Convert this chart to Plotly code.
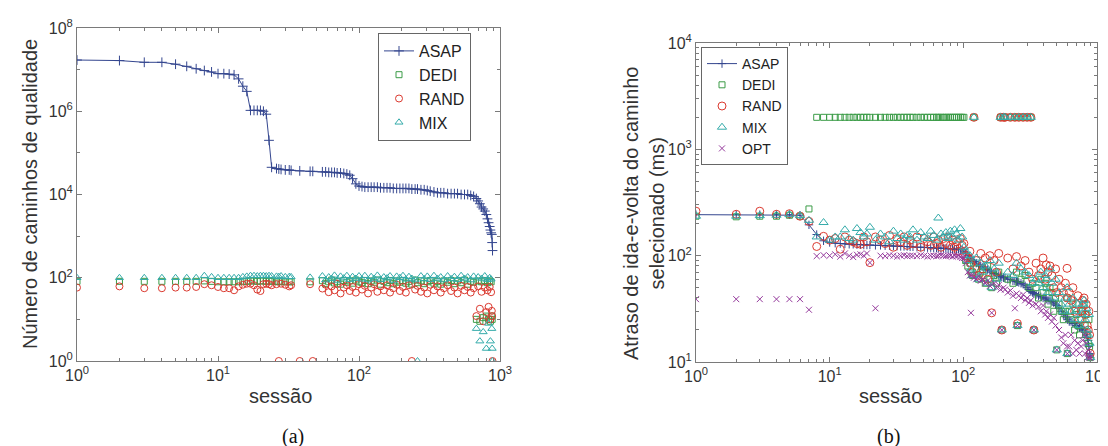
import plotly.graph_objects as go

# ---------------- data: panel (a) ----------------
sess_a = [1,2,3,4,5,6,7,8,9,10,11,12,13,14,15,16,17,18,19,20,21,22,23,24,
          26,27,28,30,32,33,38,45,47,
          55,58,61,64,67,70,74,78,82,86,90,95,100,
          105,110,116,122,128,135,142,150,158,166,175,185,195,
          205,215,226,237,250,260,275,290,305,320,340,360,380,400,
          425,450,475,500,530,560,590,
          620,650,680,700,720,740,760,780,800,815,830,845,855,865,875,880,885]

asap_a = [1.7e7,1.65e7,1.5e7,1.5e7,1.35e7,1.2e7,1.05e7,9.5e6,8.8e6,8e6,8e6,7.8e6,7.5e6,6e6,4e6,3e6,
          1.05e6,1.05e6,1.05e6,1.05e6,1e6,8.5e5,2e5,4.5e4,
          4.2e4,4.1e4,4e4,3.9e4,3.9e4,3.8e4,3.7e4,3.6e4,3.6e4,
          3.5e4,3.5e4,3.4e4,3.4e4,3.4e4,3.3e4,3.3e4,3.2e4,3.1e4,2.9e4,2.4e4,1.8e4,1.6e4,
          1.55e4,1.5e4,1.5e4,1.5e4,1.5e4,1.5e4,1.45e4,1.45e4,1.45e4,1.45e4,1.4e4,1.4e4,1.4e4,
          1.4e4,1.4e4,1.4e4,1.35e4,1.35e4,1.35e4,1.3e4,1.3e4,1.25e4,1.2e4,1.15e4,1.1e4,1.1e4,1.1e4,
          1.05e4,1.05e4,1.05e4,1.05e4,1e4,1e4,1e4,
          9.5e3,9e3,8e3,7e3,6e3,5e3,4.5e3,4e3,3.3e3,2.6e3,2.1e3,1.7e3,1.4e3,1.2e3,1.1e3,700,450]

dedi_a = [82,82,82,82,82,82,82,84,82,80,80,80,80,80,82,82,84,84,82,84,84,82,84,82,
          82,80,82,80,80,80,None,80,None,
          85,72,80,88,75,82,70,86,78,84,74,88,80,
          76,86,72,84,78,88,70,82,76,86,72,84,78,
          86,74,82,70,88,76,84,72,80,86,74,82,70,84,
          78,86,72,84,76,88,70,
          82,78,10,84,9,80,11,86,12,76,10,84,9,80,12,10,None]

rand_a = [58,62,56,56,58,58,60,70,66,60,56,56,50,62,68,72,72,66,52,48,70,72,70,66,
          70,1,72,68,62,66,1,70,1,
          55,68,45,62,50,72,42,58,66,48,60,44,70,
          52,64,42,58,70,46,62,50,66,44,56,68,48,
          60,44,66,1,52,64,46,58,42,68,50,62,44,56,
          66,48,58,42,64,50,60,
          44,56,12,62,18,46,9,58,15,50,20,60,10,45,16,12,1]

mix_a = [100,100,100,100,100,100,100,112,105,100,100,100,100,100,105,108,112,112,110,112,112,110,112,110,
         108,106,110,105,106,105,None,102,None,
         110,88,104,95,114,86,108,98,112,90,106,96,110,
         92,112,88,106,96,114,90,104,98,110,86,108,100,
         112,92,106,96,88,1,110,94,108,90,112,96,104,88,
         110,94,106,90,112,96,104,
         88,108,6,104,3,96,5,110,2,90,8,100,3,92,6,2,1]

# ---------------- data: panel (b) ----------------
sess_b = [1,2,3,4,5,6,7,
          8,9,10,11,12,13,14,15,16,17,18,19,20,
          22,24,26,28,30,32,34,36,38,40,42,45,48,51,54,57,60,63,65,68,71,74,77,80,83,86,89,92,95,98,
          101,104,108,112,114,117,120,125,130,135,140,146,152,158,163,170,177,184,190,194,200,
          205,215,225,235,243,250,254,260,270,280,290,300,310,320,330,
          337,350,365,380,395,410,417,430,445,460,475,490,500,520,540,560,580,597,600,
          620,640,660,680,700,720,740,760,780,800,815,830,845,860,870,880,890]

asap_b = [243,243,243,243,243,240,195,
          158,138,133,131,130,129,128,128,127,127,126,126,126,
          125,125,124,124,123,123,122,122,122,121,121,120,120,120,119,119,118,118,118,117,
          117,117,116,116,116,115,115,115,114,114,
          110,105,100,95,92,90,88,85,82,80,78,76,74,72,70,68,66,65,64,63,62,
          62,60,60,58,58,57,57,56,55,54,52,50,48,46,45,
          44,43,42,41,40,40,39,38,38,37,36,35,34,32,30,28,27,26,25,
          24,24,23,23,22,22,21,21,20,20,19,18,17,16,14,12,11]

dedi_b = [235,232,235,235,240,235,275,
          2000,2000,2000,2000,2000,2000,2000,2000,2000,2000,2000,2000,2000,
          2000,2000,2000,2000,2000,2000,2000,2000,2000,2000,2000,2000,2000,2000,2000,
          2000,2000,2000,2000,2000,2000,2000,2000,2000,2000,2000,2000,2000,2000,2000,
          2000,90,80,85,70,65,2000,75,60,70,65,55,80,60,50,65,55,70,2000,20,2000,
          2000,60,2000,55,2000,70,22,2000,60,2000,65,2000,50,2000,55,
          20,50,40,60,45,55,50,35,50,45,30,40,13,35,30,25,30,40,12,
          30,25,35,20,28,22,18,25,30,35,22,28,18,15,25,14,11]

rand_b = [262,245,262,245,248,235,210,
          122,152,140,145,115,150,140,135,130,128,150,135,86,
          150,140,130,155,120,145,135,150,125,140,130,150,120,145,135,
          125,150,130,140,120,145,130,150,125,140,120,135,110,145,125,
          130,100,95,110,85,70,2000,90,65,105,75,95,60,100,29,90,70,105,2000,20,2000,
          2000,95,2000,75,2000,98,23,2000,80,2000,90,2000,70,2000,60,
          20,85,65,75,95,60,82,70,80,65,50,75,45,60,50,45,55,76,40,
          45,38,50,30,35,42,25,30,38,40,28,35,22,20,30,18,12]

mix_b = [235,235,238,240,243,238,215,
         150,205,140,150,150,175,145,140,180,165,150,160,185,
         140,160,150,135,170,145,160,140,155,150,175,140,165,150,145,
         170,155,140,226,160,150,165,145,170,150,175,160,140,180,150,
         120,110,90,100,75,65,2000,95,60,85,70,80,55,90,50,75,60,85,2000,20,2000,
         2000,70,2000,65,2000,85,22,2000,75,2000,70,2000,65,2000,55,
         20,60,55,70,50,65,60,45,75,55,40,60,13,45,35,30,40,50,12,
         35,30,40,25,30,35,22,28,35,38,25,32,20,18,28,15,11]

opt_b = [39,39,39,39,39,39,31,
         99,101,100,103,98,105,100,97,102,103,100,105,86,
         32,100,99,101,100,98,100,101,99,100,100,99,101,100,98,
         100,100,99,100,101,100,99,100,100,98,100,99,100,97,95,
         95,85,70,65,29,66,62,60,64,58,60,55,58,52,29,55,50,53,48,20,50,
         48,45,47,42,32,44,22,42,40,43,38,40,36,38,34,
         20,35,33,30,34,28,30,26,28,24,26,22,13,20,17,15,18,14,12,
         14,18,12,16,13,15,12,14,16,18,12,15,11,13,12,11,11]

names_a = ["ASAP", "DEDI", "RAND", "MIX"]
names_b = ["ASAP", "DEDI", "RAND", "MIX", "OPT"]

major_x = [1, 10, 100, 1000]
major_x_text = ["10<sup>0</sup>", "10<sup>1</sup>", "10<sup>2</sup>", "10<sup>3</sup>"]
major_ya = [1, 100, 1e4, 1e6, 1e8]
major_ya_text = ["10<sup>0</sup>", "10<sup>2</sup>", "10<sup>4</sup>", "10<sup>6</sup>", "10<sup>8</sup>"]
major_yb = [10, 100, 1000, 10000]
major_yb_text = ["10<sup>1</sup>", "10<sup>2</sup>", "10<sup>3</sup>", "10<sup>4</sup>"]

C_ASAP = "#34468f"
C_DEDI = "#3c9c48"
C_RAND = "#db3a30"
C_MIX = "#34abaa"
C_OPT = "#953a9c"

fig = go.Figure()

def add(x, y, name, sym, color, size, xa, ya, leg, mode="markers"):
    fig.add_trace(go.Scatter(
        x=x, y=y, name=name, mode=mode, xaxis=xa, yaxis=ya, legend=leg,
        line=dict(color=color, width=1),
        marker=dict(symbol=sym, size=size, color=color, line=dict(color=color, width=1))))

add(sess_a, asap_a, names_a[0], "cross-thin-open", C_ASAP, 7, "x", "y", "legend", "lines+markers")
add(sess_a, dedi_a, names_a[1], "square-open", C_DEDI, 6, "x", "y", "legend")
add(sess_a, rand_a, names_a[2], "circle-open", C_RAND, 7, "x", "y", "legend")
add(sess_a, mix_a, names_a[3], "triangle-up-open", C_MIX, 7, "x", "y", "legend")

add(sess_b, asap_b, names_b[0], "cross-thin-open", C_ASAP, 6, "x2", "y2", "legend2", "lines+markers")
add(sess_b, dedi_b, names_b[1], "square-open", C_DEDI, 6, "x2", "y2", "legend2")
add(sess_b, rand_b, names_b[2], "circle-open", C_RAND, 8, "x2", "y2", "legend2")
add(sess_b, mix_b, names_b[3], "triangle-up-open", C_MIX, 8, "x2", "y2", "legend2")
add(sess_b, opt_b, names_b[4], "x-thin-open", C_OPT, 6, "x2", "y2", "legend2")

AX = "#7a7a7a"
FONT = "Liberation Sans"
minor_x = [2,3,4,5,6,7,8,9,20,30,40,50,60,70,80,90,200,300,400,500,600,700,800,900]
minor_yb = [20,30,40,50,60,70,80,90,200,300,400,500,600,700,800,900,2000,3000,4000,5000,6000,7000,8000,9000]
minor_ya = [10, 1000, 1e5, 1e7]

def axis(domain, rng, tv, tt, minor_vals, anchor):
    return dict(domain=domain, type="log", range=rng, tickvals=tv, ticktext=tt, automargin=False,
                ticks="inside", ticklen=5, tickcolor=AX, mirror="ticks", showline=True,
                linecolor=AX, linewidth=1, showgrid=False, zeroline=False, anchor=anchor,
                ticklabeloverflow="allow",
                tickfont=dict(family=FONT, size=16, color="#333"),
                minor=dict(tickvals=minor_vals, ticks="inside", ticklen=3, tickcolor=AX, showgrid=False))

fig.update_layout(
    width=1108, height=446,
    margin=dict(l=0, r=0, t=0, b=0, autoexpand=False),
    paper_bgcolor="white", plot_bgcolor="white",
    xaxis=axis([69/1108, 492/1108], [0, 3], major_x, major_x_text, minor_x, "y"),
    yaxis=axis([1-353/446, 1-20/446], [0, 8], major_ya, major_ya_text, minor_ya, "x"),
    xaxis2=axis([688/1108, 1089/1108], [0, 3], major_x, major_x_text, minor_x, "y2"),
    yaxis2=axis([1-354/446, 1-35/446], [1, 4], major_yb, major_yb_text, minor_yb, "x2"),
    legend=dict(x=370/1108, y=1-25/446, xanchor="left", yanchor="top", bgcolor="white",
                bordercolor="#666", borderwidth=1, font=dict(family=FONT, size=16, color="#222"),
                tracegroupgap=0),
    legend2=dict(x=693/1108, y=1-39/446, xanchor="left", yanchor="top", bgcolor="white",
                 bordercolor="#666", borderwidth=1, font=dict(family=FONT, size=14, color="#222"),
                 tracegroupgap=0),
    showlegend=True,
)

ann = [
    dict(text="(a)", x=285, y=428, font=dict(family="Liberation Serif", size=20, color="#111")),
    dict(text="(b)", x=880, y=428, font=dict(family="Liberation Serif", size=20, color="#111")),
    dict(text="sessão", x=272, y=388, font=dict(family=FONT, size=20, color="#333")),
    dict(text="sessão", x=882, y=388, font=dict(family=FONT, size=20, color="#333")),
    dict(text="Número de caminhos de qualidade", x=22, y=186, textangle=-90,
         font=dict(family=FONT, size=20, color="#333")),
    dict(text="Atraso de ida-e-volta do caminho<br>selecionado (ms)", x=636, y=205, textangle=-90,
         font=dict(family=FONT, size=20, color="#333")),
]
for a in ann:
    fig.add_annotation(xref="paper", yref="paper", x=a["x"]/1108, y=1-a["y"]/446,
                       xanchor="center", yanchor="middle", showarrow=False,
                       text=a["text"], textangle=a.get("textangle", 0), font=a["font"])

fig.write_html("out.html")
